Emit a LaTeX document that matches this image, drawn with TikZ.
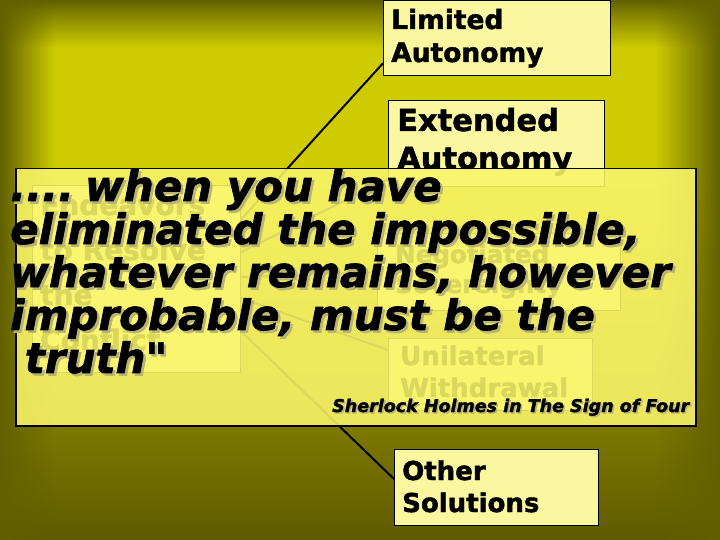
\documentclass[tikz,border=0pt]{standalone}
\usepackage{fontspec}
\setmainfont{DejaVu Sans}[Ligatures=TeXOff, BoldFeatures={FakeBold=1.6}, BoldItalicFeatures={FakeBold=1.6}]
\usetikzlibrary{calc,fadings}
\definecolor{dk}{RGB}{98,96,0}
\definecolor{dk2}{RGB}{125,123,0}
\definecolor{yel}{RGB}{206,204,0}
\definecolor{olv}{RGB}{125,120,0}
\definecolor{olvb}{RGB}{95,90,0}
\definecolor{boxf}{RGB}{250,247,160}
\definecolor{ovl}{RGB}{250,245,105}
\definecolor{shd}{RGB}{185,180,115}
\tikzfading[name=fadeR, left color=transparent!0, right color=transparent!100]
\tikzfading[name=fadeL, left color=transparent!100, right color=transparent!0]
\begin{document}
\begin{tikzpicture}[x=1pt,y=-1pt,
  optbox/.style={draw=black, line width=1.2pt, fill=boxf, anchor=north west, inner sep=0pt},
  boxtext/.style={anchor=base west, inner sep=0pt, font=\bfseries},
  link/.style={line width=2pt, black},
  quotetext/.style={anchor=base west, inner sep=0pt, font=\bfseries\itshape}]
\useasboundingbox (0,0) rectangle (720,540);
% background
\shade[top color=dk, bottom color=dk2] (0,0) rectangle (720,11);
\shade[top color=dk2, bottom color=yel] (0,10.5) rectangle (720,48);
\fill[yel] (0,47.5) rectangle (720,170.5);
\shade[top color=yel, bottom color=olv] (0,170) rectangle (720,430.5);
\shade[top color=olv, bottom color=olvb] (0,430) rectangle (720,540);
\fill[dk, path fading=fadeR] (0,0) rectangle (55,540);
\fill[dk, path fading=fadeL] (655,0) rectangle (720,540);

% hub hidden behind the left box
\coordinate (hub) at (187,279);

% boxes (nodes)
\node[optbox, minimum width=208pt, minimum height=187pt] (endv) at (32,185) {};
\node[optbox, minimum width=227pt, minimum height=75pt] (lim) at (383,0) {};
\node[optbox, minimum width=216pt, minimum height=86pt] (ext) at (388,100) {};
\node[optbox, minimum width=243pt, minimum height=77pt] (neg) at (377,233) {};
\node[optbox, minimum width=204pt, minimum height=72pt] (uni) at (388,338) {};
\node[optbox, minimum width=204pt, minimum height=76pt] (oth) at (394,449) {};

% connectors drawn from the hub, behind the boxes
\draw[link] (hub) -- ($(lim.south west)+(0,-13)$);
\draw[link] (hub) -- ($(ext.south west)+(0,-8)$);
\draw[link] (hub) -- (neg.west);
\draw[link] (hub) -- ($(uni.north west)+(0,12)$);
\draw[link] (hub) -- ($(oth.north west)+(0,30)$);

% redraw boxes on top of connectors
\node[optbox, minimum width=208pt, minimum height=187pt] (endvB) at (32,185) {};
\node[optbox, minimum width=227pt, minimum height=75pt] (limB) at (383,0) {};
\node[optbox, minimum width=216pt, minimum height=86pt] (extB) at (388,100) {};
\node[optbox, minimum width=243pt, minimum height=77pt] (negB) at (377,233) {};
\node[optbox, minimum width=204pt, minimum height=72pt] (uniB) at (388,338) {};
\node[optbox, minimum width=204pt, minimum height=76pt] (othB) at (394,449) {};

% box texts
\node[boxtext] (endvt) at (40,215) {\fontsize{28}{45}\selectfont\vtop{\hbox{Endeavors}\hbox{to Resolve}\hbox{the}\hbox{Conflict}}};
\node[boxtext] (limt) at (391,29) {\fontsize{26.5}{33}\selectfont\vtop{\hbox{Limited}\hbox{Autonomy}}};
\node[boxtext] (extt) at (397,131) {\fontsize{30.5}{38}\selectfont\vtop{\hbox{Extended}\hbox{Autonomy}}};
\node[boxtext] (negt) at (395,263) {\fontsize{24.5}{30}\selectfont\vtop{\hbox{Negotiated}\hbox{Sovereignty}}};
\node[boxtext] (unit) at (400,365) {\fontsize{26}{32}\selectfont\vtop{\hbox{Unilateral}\hbox{Withdrawal}}};
\node[boxtext] (otht) at (402,480) {\fontsize{26}{32}\selectfont\vtop{\hbox{Other}\hbox{Solutions}}};

% overlay quote box
\node[draw=black, line width=1.5pt, fill=ovl, fill opacity=0.88, draw opacity=1,
      anchor=north west, inner sep=0pt, minimum width=680pt, minimum height=257pt] (qbox) at (15,168) {};

\newcommand{\quotelines}{\fontsize{42}{43}\selectfont\vtop{\hbox{....\hspace{11pt}when you have}\hbox{eliminated the impossible,}\hbox{whatever remains, however}\hbox{improbable, must be the}\hbox{\ truth"}}}
\node[quotetext, text=shd] (qshadow) at (12.5,203.5) {\quotelines};
\node[quotetext, text=black] (quote) at (10,201) {\quotelines};
\node[quotetext, text=shd] (srcshadow) at (333.5,413.5) {\fontsize{17.5}{20}\selectfont Sherlock Holmes in The Sign of Four};
\node[quotetext, text=black] (src) at (332,412) {\fontsize{17.5}{20}\selectfont Sherlock Holmes in The Sign of Four};
\end{tikzpicture}
\end{document}
